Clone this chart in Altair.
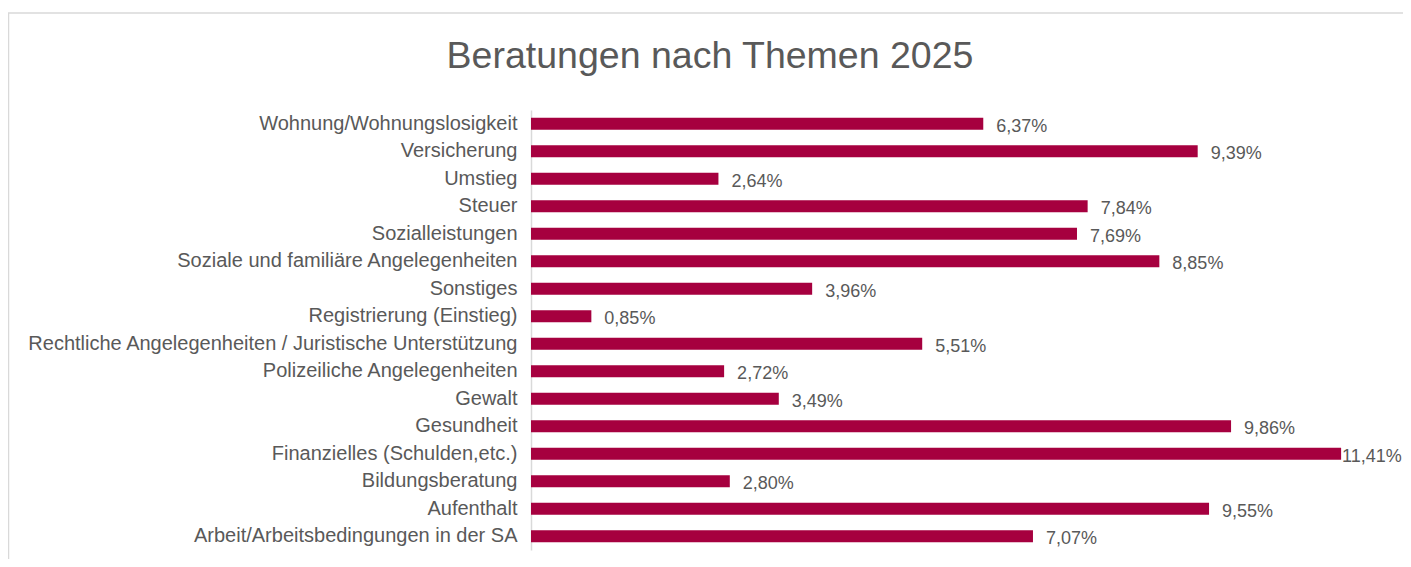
import altair as alt
import pandas as pd

categories = [
    "Wohnung/Wohnungslosigkeit",
    "Versicherung",
    "Umstieg",
    "Steuer",
    "Sozialleistungen",
    "Soziale und familiäre Angelegenheiten",
    "Sonstiges",
    "Registrierung (Einstieg)",
    "Rechtliche Angelegenheiten / Juristische Unterstützung",
    "Polizeiliche Angelegenheiten",
    "Gewalt",
    "Gesundheit",
    "Finanzielles (Schulden,etc.)",
    "Bildungsberatung",
    "Aufenthalt",
    "Arbeit/Arbeitsbedingungen in der SA",
]
values = [6.37, 9.39, 2.64, 7.84, 7.69, 8.85, 3.96, 0.85, 5.51, 2.72, 3.49, 9.86, 11.41, 2.80, 9.55, 7.07]
labels = [f"{v:.2f}".replace(".", ",") + "%" for v in values]

df = pd.DataFrame({"Thema": categories, "Anteil": values, "Label": labels})

FONT = "Liberation Sans"
GREY = "#595959"
BAR = "#A6003F"

y_enc = alt.Y(
    "Thema:N",
    sort=categories,
    scale=alt.Scale(paddingInner=0, paddingOuter=0),
    axis=alt.Axis(
        title=None,
        ticks=False,
        labelFont=FONT,
        labelFontSize=20,
        labelColor=GREY,
        labelPadding=14,
        labelLimit=1000,
        domainColor="#D9D9D9",
        domainWidth=1.5,
    ),
)
x_scale = alt.Scale(domain=[0, 12])

bars = alt.Chart(df).mark_bar(color=BAR, size=12).encode(
    x=alt.X("Anteil:Q", scale=x_scale, axis=None), y=y_enc
)
# like Excel, keep the label of the longest bar inside the chart area
texts = (
    alt.Chart(df)
    .transform_calculate(pos="min(datum.Anteil, 11.24)")
    .mark_text(align="left", baseline="middle", dx=13, dy=3, font=FONT, fontSize=18, color=GREY)
    .encode(x=alt.X("pos:Q", scale=x_scale, axis=None), y=y_enc, text="Label:N")
)

frame = alt.Chart(df.head(1)).mark_rect(
    fill=None, stroke="#D9D9D9", strokeWidth=1.5, clip=False
).encode(
    x=alt.value(-522.5), x2=alt.value(1000), y=alt.value(-97), y2=alt.value(700)
)

chart = (
    alt.layer(frame, bars, texts)
    .properties(
        width=852,
        height=440,
        background="white",
        title=alt.TitleParams(
            "Beratungen nach Themen 2025",
            font=FONT,
            fontSize=37.5,
            fontWeight="normal",
            color=GREY,
            anchor="middle",
            dx=-247,
            offset=-93,
            baseline="alphabetic",
        ),
        autosize=alt.AutoSizeParams(type="none"),
        padding={"left": 523, "top": 102, "right": 20, "bottom": 9},
    )
    .configure_view(stroke="transparent", strokeWidth=0)
)

chart.save("out.html", embed_options={"renderer": "svg", "actions": False})
